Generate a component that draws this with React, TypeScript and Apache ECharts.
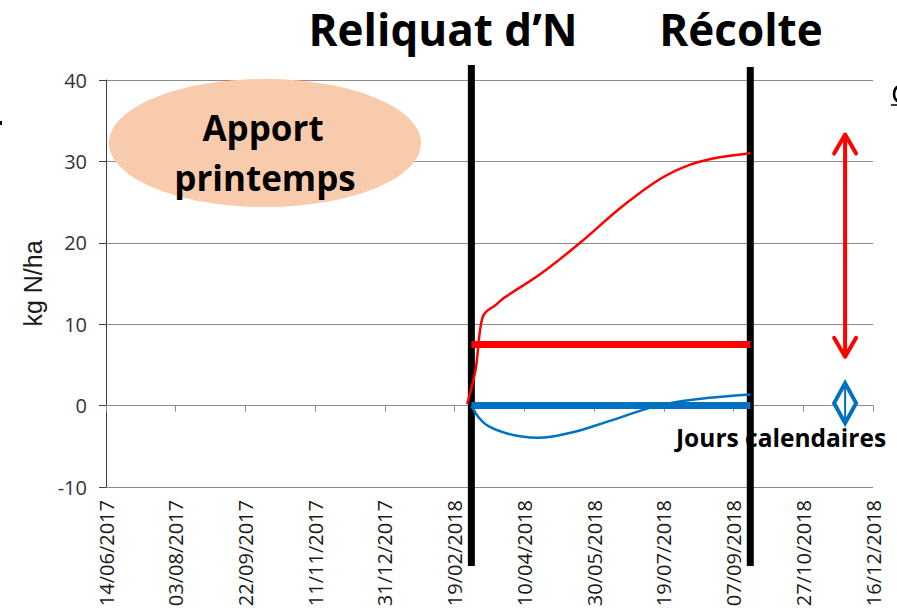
import React, { useEffect, useRef } from "react";
import * as echarts from "echarts";

// Excel-style date serials (days since 1899-12-30)
const xTickMin = "2017-06-14";
const xTickMax = "2018-12-16";
const xTickStepDays = 50;
const yTicks = [-10, 0, 10, 20, 30, 40];

const redCurveDates = [
  "2018-02-28", "2018-03-06", "2018-03-09", "2018-03-11", "2018-03-14",
  "2018-03-20", "2018-03-27", "2018-04-21", "2018-05-20", "2018-06-18", "2018-07-16",
  "2018-08-07", "2018-08-28", "2018-09-19",
];
const redCurveValues = [0.2, 4.4, 9.0, 10.8, 11.6, 12.3, 13.3, 16.1, 20.0, 24.3, 27.8, 29.6, 30.5, 31.0];

const blueCurveDates = [
  "2018-03-03", "2018-03-08", "2018-03-15", "2018-03-28", "2018-04-08", "2018-04-20", "2018-05-14",
  "2018-06-08", "2018-07-15", "2018-08-13", "2018-09-19",
];
const blueCurveValues = [0, -1.4, -2.5, -3.4, -3.8, -3.95, -3.3, -2.0, 0, 0.8, 1.35];

const reliquatDate = "2018-03-03";
const recolteDate = "2018-09-19";
const redLevel = 7.5;
const blueLevel = 0;

const arrowDate = "2018-11-26";
const arrowTop = 33.3;
const arrowBottom = 6.0;
const diamondValue = 0.3;

const toSerial = (iso: string) => {
  const [y, m, d] = iso.split("-").map(Number);
  return Math.round((Date.UTC(y, m - 1, d) - Date.UTC(1899, 11, 30)) / 86400000);
};
const fmtSerial = (s: number) => {
  const dt = new Date(Date.UTC(1899, 11, 30) + Math.round(s) * 86400000);
  const dd = String(dt.getUTCDate()).padStart(2, "0");
  const mm = String(dt.getUTCMonth() + 1).padStart(2, "0");
  return `${dd}/${mm}/${dt.getUTCFullYear()}`;
};

export default function App() {
  const ref = useRef<HTMLDivElement>(null);
  useEffect(() => {
    if (!ref.current) return;
    const chart = echarts.init(ref.current, null, { renderer: "svg" });
    const xMin = toSerial(xTickMin);
    const xMax = toSerial(xTickMax);
    const red = redCurveDates.map((d, i) => [toSerial(d), redCurveValues[i]]);
    const blue = blueCurveDates.map((d, i) => [toSerial(d), blueCurveValues[i]]);
    const rel = toSerial(reliquatDate);
    const rec = toSerial(recolteDate);
    const gridColor = "#8c8c8c";
    const xAxisBase = { type: "value", min: xMin, max: xMax, interval: xTickStepDays, splitLine: { show: false } };
    chart.setOption({
      animation: false,
      grid: { left: 106, right: 24, top: 80, bottom: 127, containLabel: false },
      xAxis: [
        {
          ...xAxisBase,
          position: "bottom",
          axisLine: { show: true, onZero: true, lineStyle: { color: gridColor, width: 1 } },
          axisTick: { show: true, length: 6, lineStyle: { color: gridColor } },
          axisLabel: { show: false },
        },
        {
          ...xAxisBase,
          position: "bottom",
          axisLine: { show: false, onZero: false },
          axisTick: { show: false },
          axisLabel: {
            show: true,
            rotate: 90,
            margin: 13,
            fontSize: 20,
            fontFamily: "Open Sans",
            color: "#1a1a1a",
            formatter: (v: number) => fmtSerial(v),
          },
        },
      ],
      yAxis: {
        type: "value",
        min: yTicks[0],
        max: yTicks[yTicks.length - 1],
        interval: 10,
        name: "kg N/ha",
        nameLocation: "middle",
        nameRotate: 90,
        nameGap: 61,
        nameTextStyle: { fontSize: 25, fontFamily: "Liberation Sans", color: "#1a1a1a" },
        axisLine: { show: true, onZero: false, lineStyle: { color: "#404040" } },
        axisTick: { show: true, length: 7, lineStyle: { color: "#404040" } },
        axisLabel: { fontSize: 20, fontFamily: "Open Sans", color: "#333333", margin: 19 },
        splitLine: { show: true, lineStyle: { color: gridColor, width: 1 } },
      },
      series: [
        {
          type: "line", name: "red", data: red, symbol: "none", smooth: 0.3,
          lineStyle: { color: "#FF0000", width: 2.5 }, z: 3,
        },
        {
          type: "line", name: "blue", data: blue, symbol: "none", smooth: 0.4,
          lineStyle: { color: "#0070C0", width: 2.5 }, z: 3,
        },
        {
          type: "line", name: "redLevel", data: [[rel, redLevel], [rec, redLevel]], symbol: "none",
          lineStyle: { color: "#FF0000", width: 7, cap: "butt" }, z: 4,
        },
        {
          type: "line", name: "blueLevel", data: [[rel, blueLevel], [rec, blueLevel]], symbol: "none",
          lineStyle: { color: "#0070C0", width: 7, cap: "butt" }, z: 4,
        },
      ],
    });

    const px = (x: number, y: number) => chart.convertToPixel({ xAxisIndex: 0, yAxisIndex: 0 }, [x, y]) as number[];
    const relX = px(rel, 0)[0];
    const recX = px(rec, 0)[0];
    const aTop = px(toSerial(arrowDate), arrowTop);
    const aBot = px(toSerial(arrowDate), arrowBottom);
    const dm = px(toSerial(arrowDate), diamondValue);
    const arrowStyle = { stroke: "#FF0000", lineWidth: 4, fill: null, lineCap: "round", lineJoin: "round" };
    const boldText = (text: string, x: number, y: number, size: number, align = "center") => ({
      type: "text",
      x, y, z: 20,
      style: { text, fontSize: size, fontWeight: "bold", fontFamily: "Open Sans", fill: "#000", align, verticalAlign: "middle" },
    });

    chart.setOption({
      graphic: [
        { type: "ellipse", shape: { cx: 265, cy: 143, rx: 156, ry: 64 }, style: { fill: "#F8CBAD" }, z: 10 },
        boldText("Apport", 263, 127, 35),
        boldText("printemps", 265, 177, 35),
        boldText("Reliquat d\u2019N", 443, 29, 44),
        boldText("R\u00e9colte", 741, 29, 44),
        { type: "text", x: 676, y: 437, z: 1, style: { text: "Jours calendaires", fontSize: 24.5, fontWeight: "bold", fontFamily: "Open Sans", fill: "#000", align: "left", verticalAlign: "middle" } },
        { type: "line", z: 2, shape: { x1: relX, y1: 65, x2: relX, y2: 566 }, style: { stroke: "#000", lineWidth: 7 } },
        { type: "line", z: 2, shape: { x1: recX, y1: 67, x2: recX, y2: 566 }, style: { stroke: "#000", lineWidth: 7 } },
        { type: "line", z: 10, shape: { x1: aTop[0], y1: aTop[1] + 2, x2: aBot[0], y2: aBot[1] - 2 }, style: arrowStyle },
        { type: "polyline", z: 10, shape: { points: [[aTop[0] - 11, aTop[1] + 19], [aTop[0], aTop[1]], [aTop[0] + 11, aTop[1] + 19]] }, style: arrowStyle },
        { type: "polyline", z: 10, shape: { points: [[aBot[0] - 11, aBot[1] - 19], [aBot[0], aBot[1]], [aBot[0] + 11, aBot[1] - 19]] }, style: arrowStyle },
        { type: "polygon", z: 10, shape: { points: [[dm[0], dm[1] - 20], [dm[0] + 11, dm[1]], [dm[0], dm[1] + 20], [dm[0] - 11, dm[1]]] }, style: { fill: "#fff", stroke: "#0070C0", lineWidth: 4 } },
        { type: "line", z: 11, shape: { x1: dm[0], y1: dm[1] - 18, x2: dm[0], y2: dm[1] + 18 }, style: { stroke: "#0070C0", lineWidth: 2 } },
        { type: "arc", z: 10, shape: { cx: 903, cy: 94, r: 9, startAngle: Math.PI * 0.62, endAngle: Math.PI * 1.38, clockwise: true }, style: { stroke: "#000", lineWidth: 2.5, fill: null } },
        { type: "line", z: 10, shape: { x1: 891, y1: 105, x2: 897, y2: 105 }, style: { stroke: "#000", lineWidth: 1.5 } },
        { type: "rect", z: 10, shape: { x: 0, y: 121, width: 2, height: 4 }, style: { fill: "#000" } },
      ],
    });
    return () => chart.dispose();
  }, []);
  return <div ref={ref} style={{ position: "fixed", left: 0, top: 0, width: 897, height: 614, background: "#fff" }} />;
}
